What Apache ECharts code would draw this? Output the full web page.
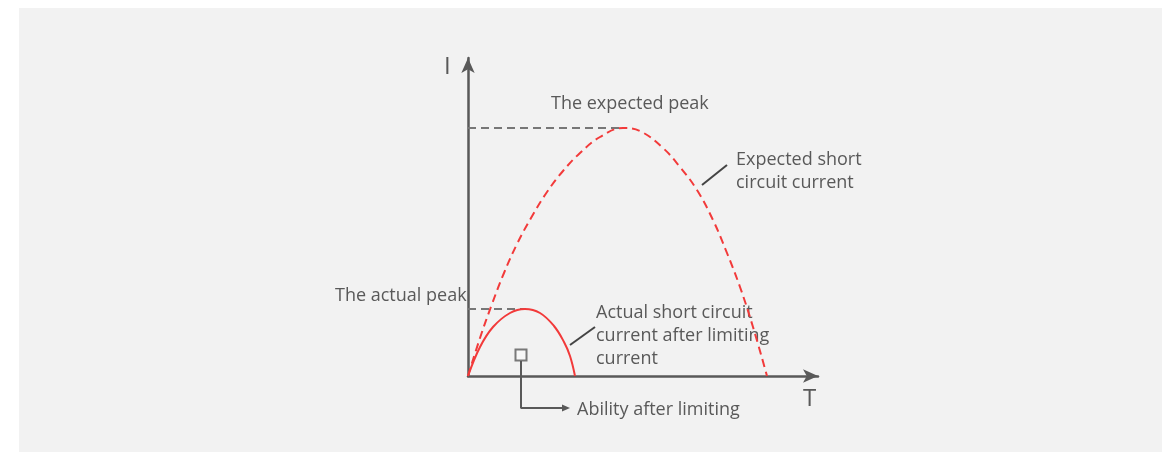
<!DOCTYPE html>
<html>
<head>
<meta charset="utf-8">
<script src="https://cdn.jsdelivr.net/npm/echarts@6/dist/echarts.min.js"></script>
<style>
html, body { margin: 0; padding: 0; background: #fff; }
#chart { position: absolute; left: 19px; top: 8px; width: 1143px; height: 444px; background: #f2f2f2; }
</style>
</head>
<body>
<div id="chart"></div>
<script>
// 坐标单位: T 向右, I 向上, 原点在两轴交点
var expectedCurve = [[0,0],[12,38],[24,72],[36,103],[49,132],[63,158],[79,184],[95,205],[112,223],[132,239],[155,248],[172,245],[195,228],[212,209],[229,186],[245,156],[259,123],[272,89],[285,49],[299,0]];
var actualCurve = [[0,0],[12,29],[25,49],[42,63],[57,67],[72,63],[86,50],[96,34],[102,20],[107,0]];
var expectedPeakLine = [[0,248],[155,248]];
var actualPeakLine = [[0,67],[57,67]];
var expectedPointer = [[234,191],[259,211]];
var actualPointer = [[102,31],[127,49]];
var abilityPoint = [[53,21]];
var abilityLeader = [[53,15],[53,-32],[98,-32]];

var AXIS = '#595959';
var TXT = '#595959';
var RED = '#f23a3a';

var myChart = echarts.init(document.getElementById('chart'));

function txt(x, y, s, size) {
	return {
		type: 'text',
		left: x - 19,
		top: y - 8,
		style: {
			text: s,
			fill: TXT,
			font: (size || 18) + 'px "Open Sans"',
			lineHeight: 23
		}
	};
}

myChart.setOption({
	animation: false,
	grid: {
		left: 449,
		top: 50,
		width: 350,
		height: 318
	},
	xAxis: {
		type: 'value',
		min: 0,
		max: 350,
		axisLine: {
			show: true,
			symbol: ['none', 'arrow'],
			symbolSize: [10, 15],
			lineStyle: { color: AXIS, width: 2.5 }
		},
		axisTick: { show: false },
		axisLabel: { show: false },
		splitLine: { show: false }
	},
	yAxis: {
		type: 'value',
		min: 0,
		max: 318,
		axisLine: {
			show: true,
			symbol: ['none', 'arrow'],
			symbolSize: [10, 15],
			lineStyle: { color: AXIS, width: 2.5 }
		},
		axisTick: { show: false },
		axisLabel: { show: false },
		splitLine: { show: false }
	},
	graphic: [
		txt(444, 55, 'I', 24),
		txt(803, 387, 'T', 24),
		txt(551, 92, 'The expected peak'),
		txt(736, 148, 'Expected short\ncircuit current'),
		txt(335, 284, 'The actual peak'),
		txt(596, 301, 'Actual short circuit\ncurrent after limiting\ncurrent'),
		txt(577, 398, 'Ability after limiting')
	],
	series: [
		{
			type: 'line',
			data: expectedPeakLine,
			showSymbol: false,
			lineStyle: { color: '#777', width: 2, type: [8, 5] }
		},
		{
			type: 'line',
			data: actualPeakLine,
			showSymbol: false,
			lineStyle: { color: '#777', width: 2, type: [8, 5] }
		},
		{
			type: 'line',
			data: expectedCurve,
			smooth: 0.4,
			showSymbol: false,
			lineStyle: { color: RED, width: 2, type: [8, 5] }
		},
		{
			type: 'line',
			data: actualCurve,
			smooth: 0.4,
			showSymbol: false,
			lineStyle: { color: RED, width: 2 }
		},
		{
			type: 'line',
			data: expectedPointer,
			showSymbol: false,
			lineStyle: { color: '#444', width: 2 }
		},
		{
			type: 'line',
			data: actualPointer,
			showSymbol: false,
			lineStyle: { color: '#444', width: 2 }
		},
		{
			type: 'line',
			data: abilityLeader.map(function(p, i) {
				if (i == abilityLeader.length - 1) {
					return { value: p, symbol: 'triangle', symbolRotate: -90, symbolSize: [7, 8], itemStyle: { color: AXIS } };
				}
				return { value: p, symbol: 'none' };
			}),
			clip: false,
			showSymbol: true,
			lineStyle: { color: AXIS, width: 2 }
		},
		{
			type: 'scatter',
			data: abilityPoint,
			symbol: 'rect',
			symbolSize: 11,
			itemStyle: { color: '#f7f7f7', borderColor: AXIS, borderWidth: 2 },
			z: 5
		}
	]
});
</script>
</body>
</html>
